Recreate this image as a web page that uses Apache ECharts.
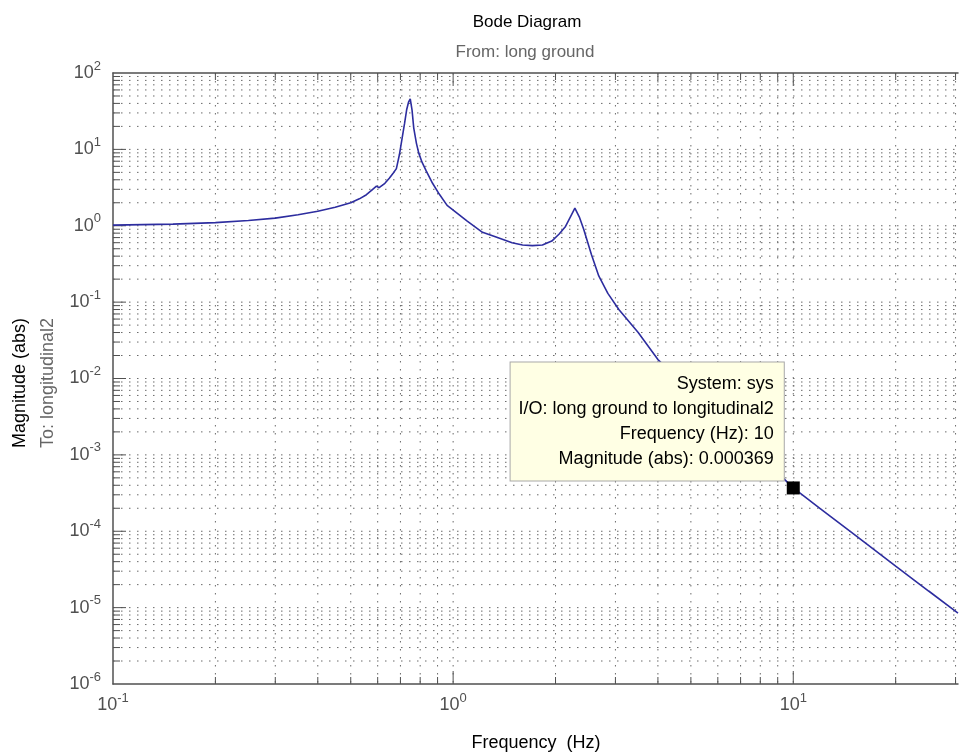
<!doctype html>
<html>
<head>
    <meta charset="utf-8">
    <script src="https://cdn.jsdelivr.net/npm/echarts@6/dist/echarts.min.js"></script>
    <style>
        html, body { margin: 0; padding: 0; background: #fff; }
        #bode { width: 959px; height: 753px; }
    </style>
</head>
<body>
<div id="bode"></div>
<script type="text/javascript">
    // frequency response (Hz, abs)
    var freqHz = [0.1, 0.15, 0.2, 0.25, 0.3, 0.35, 0.4, 0.45, 0.5, 0.53, 0.556, 0.58, 0.595, 0.606, 0.63,
        0.649, 0.667, 0.681, 0.695, 0.708, 0.72, 0.73, 0.74, 0.748, 0.757, 0.766, 0.78, 0.792, 0.81, 0.834,
        0.87, 0.91, 0.96, 1.02, 1.1, 1.22, 1.35, 1.49, 1.6, 1.71, 1.83, 1.95, 2.05, 2.14, 2.22, 2.28, 2.35,
        2.42, 2.55, 2.68, 2.85, 3.07, 3.5, 4.0, 5, 6, 7, 8, 9, 10, 12, 15, 20, 25, 30.5];
    var magAbs = [1.02, 1.05, 1.1, 1.17, 1.26, 1.39, 1.55, 1.75, 2.0, 2.25, 2.55, 3.0, 3.3, 3.15, 3.6,
        4.2, 4.9, 5.6, 8.5, 14, 22, 33, 42, 46, 33, 19, 12, 9, 6.8, 5.2,
        3.6, 2.6, 1.85, 1.5, 1.15, 0.82, 0.7, 0.6, 0.56, 0.55, 0.56, 0.63, 0.78, 0.98, 1.35, 1.7, 1.3,
        0.9, 0.42, 0.22, 0.13, 0.08, 0.04, 0.0177, 0.0068, 0.0031, 0.0016, 0.00093, 0.00058, 0.000369,
        0.000198, 0.000093, 0.000035, 0.0000165, 0.0000085];

    // data cursor
    var cursorPoint = [10, 0.000369];
    var cursorLines = ['System: sys', 'I/O: long ground to longitudinal2', 'Frequency (Hz): 10', 'Magnitude (abs): 0.000369'];

    var xRange = [0.1, 30.5];
    var yRange = [1e-6, 100];
    var xDecades = [-1, 0, 1];
    var yDecades = [-6, -5, -4, -3, -2, -1, 0, 1];

    var axisColor = '#505050';
    var gridColor = '#6a6a6a';
    var curveColor = '#2d2d9f';
    var labelFont = 'Liberation Sans, Arial, sans-serif';

    // grid positions at 1..9 of every decade
    function gridValues(decades, lo, hi) {
        var out = [];
        decades.forEach(function (d) {
            for (var m = 1; m <= 9; m++) {
                var v = m * Math.pow(10, d);
                if (v > lo * 1.0001 && v < hi * 0.9999) out.push([v, m === 1 ? 1 : 0]);
            }
        });
        return out;
    }
    var xGrid = gridValues(xDecades, xRange[0], xRange[1]);
    var yGrid = gridValues(yDecades, yRange[0], yRange[1]);

    function powLabel(v) {
        var e = Math.log10(v);
        var r = Math.round(e);
        if (Math.abs(e - r) > 1e-6) return '';
        return '{b|10}{e|' + r + '}';
    }
    var powRich = {
        b: { fontSize: 18, color: axisColor, fontFamily: labelFont },
        e: { fontSize: 13, color: axisColor, fontFamily: labelFont, padding: [0, 0, 14, 0] }
    };

    var chart = echarts.init(document.getElementById('bode'));

    var option = {
        animation: false,
        grid: { left: 113, right: 1, top: 73, bottom: 69 },
        xAxis: [{
            type: 'log', min: xRange[0], max: xRange[1],
            axisLine: { show: true, lineStyle: { color: axisColor, width: 1.5 } },
            axisTick: { show: false },
            splitLine: { show: false },
            axisLabel: { formatter: powLabel, rich: powRich, margin: 8, showMaxLabel: false }
        }, {
            type: 'log', min: xRange[0], max: xRange[1], position: 'top',
            axisLine: { show: true, lineStyle: { color: axisColor, width: 1.5 } },
            axisTick: { show: false }, axisLabel: { show: false }, splitLine: { show: false }
        }],
        yAxis: {
            type: 'log', min: yRange[0], max: yRange[1],
            axisLine: { show: true, lineStyle: { color: axisColor, width: 1.5 } },
            axisTick: { show: false },
            splitLine: { show: false },
            axisLabel: { formatter: powLabel, rich: powRich, margin: 12 }
        },
        graphic: [
            { type: 'text', x: 527, y: 22, style: { text: 'Bode Diagram', fill: '#000', font: '17px ' + labelFont, align: 'center', verticalAlign: 'middle' } },
            { type: 'text', x: 525, y: 52, style: { text: 'From: long ground', fill: '#666', font: '17px ' + labelFont, align: 'center', verticalAlign: 'middle' } },
            { type: 'text', x: 536, y: 743, style: { text: 'Frequency  (Hz)', fill: '#000', font: '18px ' + labelFont, align: 'center', verticalAlign: 'middle' } },
            { type: 'text', x: 20, y: 383, rotation: Math.PI / 2, style: { text: 'Magnitude (abs)', fill: '#000', font: '18px ' + labelFont, align: 'center', verticalAlign: 'middle' } },
            { type: 'text', x: 48, y: 383, rotation: Math.PI / 2, style: { text: 'To: longitudinal2', fill: '#666', font: '18px ' + labelFont, align: 'center', verticalAlign: 'middle' } }
        ],
        series: [{
            // vertical dotted grid and ticks
            type: 'custom', silent: true, z: 1,
            data: xGrid.map(function (g) { return [g[0], 1, g[1]]; }),
            encode: { x: 0, y: 1 },
            renderItem: function (params, api) {
                var cs = params.coordSys;
                var x = api.coord([api.value(0), 1])[0];
                var len = api.value(2) ? 13 : 7;
                var top = cs.y, bot = cs.y + cs.height;
                return {
                    type: 'group', children: [
                        { type: 'line', shape: { x1: x, y1: top, x2: x, y2: bot }, style: { stroke: gridColor, lineWidth: 1, lineDash: [1.5, 6.5] } },
                        { type: 'line', shape: { x1: x, y1: bot, x2: x, y2: bot - len }, style: { stroke: axisColor, lineWidth: 1 } },
                        { type: 'line', shape: { x1: x, y1: top, x2: x, y2: top + len }, style: { stroke: axisColor, lineWidth: 1 } }
                    ]
                };
            }
        }, {
            // horizontal dotted grid and ticks
            type: 'custom', silent: true, z: 1,
            data: yGrid.map(function (g) { return [1, g[0], g[1]]; }),
            encode: { x: 0, y: 1 },
            renderItem: function (params, api) {
                var cs = params.coordSys;
                var y = api.coord([1, api.value(1)])[1];
                var len = api.value(2) ? 13 : 7;
                var left = cs.x, right = cs.x + cs.width;
                return {
                    type: 'group', children: [
                        { type: 'line', shape: { x1: left, y1: y, x2: right, y2: y }, style: { stroke: gridColor, lineWidth: 1, lineDash: [1.5, 6.5] } },
                        { type: 'line', shape: { x1: left, y1: y, x2: left + len, y2: y }, style: { stroke: axisColor, lineWidth: 1 } }
                    ]
                };
            }
        }, {
            type: 'line', z: 3,
            data: freqHz.map(function (f, i) { return [f, magAbs[i]]; }),
            showSymbol: false, symbol: 'none',
            lineStyle: { color: curveColor, width: 1.6 }
        }, {
            type: 'scatter', z: 10,
            data: [cursorPoint],
            symbol: 'rect', symbolSize: 13,
            itemStyle: { color: '#000', opacity: 1 },
            label: {
                show: true,
                opacity: 1,
                position: [-3, -1],
                align: 'right', verticalAlign: 'bottom',
                formatter: cursorLines.join('\n'),
                fontSize: 18, lineHeight: 25, color: '#000', fontFamily: labelFont,
                backgroundColor: '#ffffe4', borderColor: '#a8a8a8', borderWidth: 1,
                padding: [9, 10, 9, 8]
            }
        }]
    };

    chart.setOption(option);
</script>
</body>
</html>
